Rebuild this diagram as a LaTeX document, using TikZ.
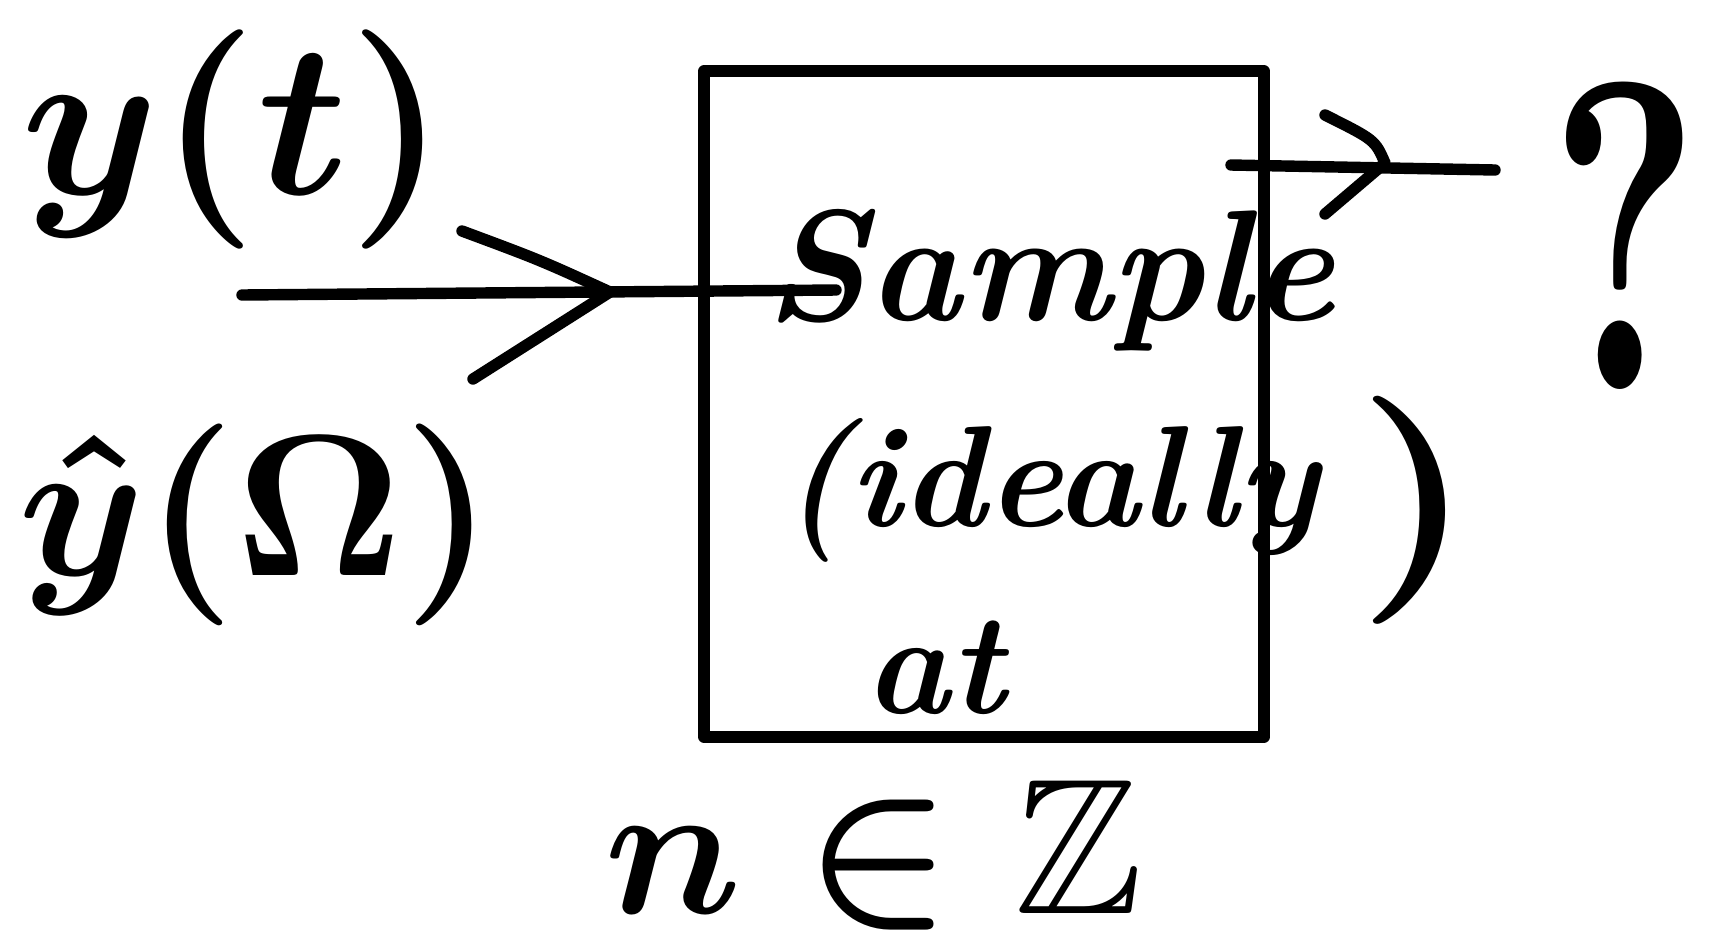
\documentclass[tikz,border=0pt]{standalone}
\usepackage{amssymb}
\usetikzlibrary{arrows.meta}
\begin{document}
\begin{tikzpicture}[x=0.02cm,y=-0.02cm,
  ink/.style={line width=6.5pt,line cap=round,line join=round},
  lbl/.style={inner sep=0pt,font=\boldmath\bfseries}]
\useasboundingbox (0,0) rectangle (1724,948);
% box
\node[ink,draw,minimum width=11.2cm,minimum height=13.32cm,inner sep=0pt] (box) at (984,404) {};
% labels
\node[lbl,scale=12.5] (yt) at (234,140) {$y(t)$};
\node[lbl,scale=11.5] (yo) at (256,525) {$\hat{y}(\Omega)$};
\node[lbl,scale=9] (sample) at (1050,280) {\itshape Sample};
\node[lbl,scale=8.2] (ideally) at (1050,490) {\itshape (ideally};
\node[lbl,xscale=15,yscale=13] (rpar) at (1415,510) {)};
\node[lbl,scale=8.2] (at) at (935,668) {\itshape at};
\node[lbl,scale=11] (nz) at (874,855) {$n\in\mathbb{Z}$};
\node[lbl,xscale=16,yscale=25] (q) at (1625,236) {?};
% input arrow
\coordinate (in0) at (242,295);
\coordinate (intip) at (610,292);
\coordinate (inend) at (836,290);
\coordinate (ina) at (462,231);
\coordinate (inb) at (473,379);
\draw[ink] (in0) -- (inend);
\draw[ink] (ina) .. controls (540,260) .. (intip) -- (inb);
% output arrow
\coordinate (out0) at (1231,165);
\coordinate (outtip) at (1385,163);
\coordinate (outend) at (1495,170);
\coordinate (outa) at (1325,115);
\coordinate (outb) at (1325,214);
\draw[ink] (out0) -- (outend);
\draw[ink] (outa) .. controls (1375,140) .. (outtip) -- (outb);
\end{tikzpicture}
\end{document}
